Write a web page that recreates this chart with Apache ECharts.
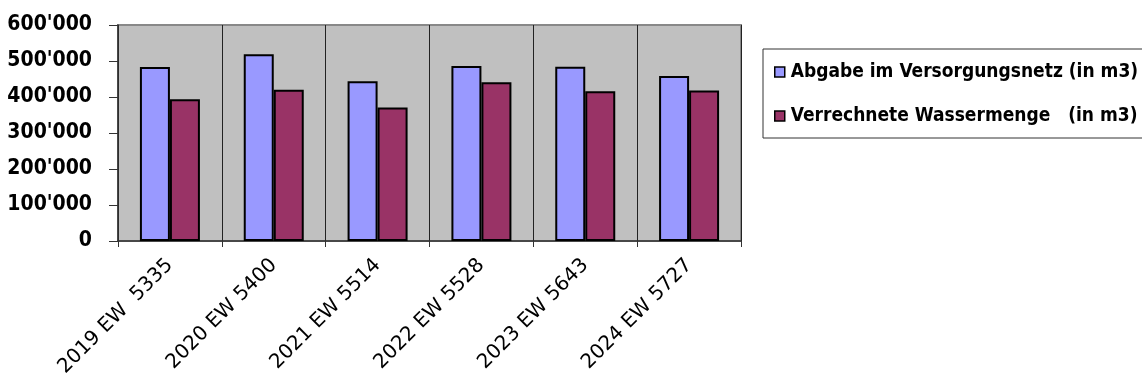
<!DOCTYPE html>
<html>
<head>
<meta charset="utf-8">
<script src="https://cdn.jsdelivr.net/npm/echarts@6/dist/echarts.min.js"></script>
<style>
  html, body { margin: 0; padding: 0; background: #fff; }
  #chart { width: 1142px; height: 385px; }
</style>
</head>
<body>
<div id="chart"></div>
<script>
// Jahr und Einwohnerzahl (EW) je Kategorie
const categories = ['2019 EW  5335', '2020 EW 5400', '2021 EW 5514', '2022 EW 5528', '2023 EW 5643', '2024 EW 5727'];
const seriesNames = ['Abgabe im Versorgungsnetz (in m3)', 'Verrechnete Wassermenge   (in m3)'];
// Wassermengen in m3
const abgabe = [483000, 519000, 444000, 486000, 484000, 458000];
const verrechnet = [394000, 420000, 371000, 441000, 416000, 418000];
const yTicks = [0, 100000, 200000, 300000, 400000, 500000, 600000];

const FONT_COND = '"DejaVu Sans Condensed", "DejaVu Sans", sans-serif';
const FONT = '"DejaVu Sans", sans-serif';

function swissThousands(v) {
  return String(v).replace(/\B(?=(\d{3})+(?!\d))/g, "'");
}

const chart = echarts.init(document.getElementById('chart'), null, { renderer: 'canvas' });

chart.setOption({
  animation: false,
  backgroundColor: '#ffffff',
  grid: {
    left: 118, right: 401, top: 25, bottom: 144,
    show: true,
    backgroundColor: '#C0C0C0',
    borderColor: '#888888',
    borderWidth: 2
  },
  legend: {
    orient: 'vertical',
    left: 763, top: 49,
    padding: [12, 80, 11, 11],
    itemGap: 22,
    itemWidth: 10, itemHeight: 10,
    icon: 'rect',
    borderColor: '#333333', borderWidth: 1,
    backgroundColor: '#ffffff',
    itemStyle: { borderColor: '#000', borderWidth: 1.5 },
    textStyle: { fontFamily: FONT_COND, fontSize: 19, lineHeight: 22, fontWeight: 'bold', color: '#000', padding: [0, 0, 0, 1] },
    data: seriesNames
  },
  xAxis: {
    type: 'category',
    data: categories,
    axisLine: { lineStyle: { color: '#333333', width: 1.5 } },
    axisTick: { show: true, length: 6, lineStyle: { color: '#333333' } },
    splitLine: { show: true, lineStyle: { color: '#222222', width: 1 } },
    axisLabel: {
      rotate: 45,
      margin: 21,
      fontFamily: FONT, fontSize: 20, color: '#000'
    }
  },
  yAxis: {
    type: 'value',
    min: yTicks[0], max: yTicks[yTicks.length - 1], interval: 100000,
    axisLine: { show: true, lineStyle: { color: '#333333', width: 1.5 } },
    axisTick: { show: true, length: 9, lineStyle: { color: '#333333' } },
    splitLine: { show: false },
    axisLabel: {
      margin: 26,
      fontFamily: FONT_COND, fontSize: 21, fontWeight: 'bold', color: '#000',
      formatter: swissThousands
    }
  },
  series: [
    {
      name: seriesNames[0], type: 'bar', data: abgabe,
      barWidth: 30, barGap: '0%',
      itemStyle: { color: '#9999FF', borderColor: '#000', borderWidth: 2 }
    },
    {
      name: seriesNames[1], type: 'bar', data: verrechnet,
      barWidth: 30, barGap: '0%',
      itemStyle: { color: '#993366', borderColor: '#000', borderWidth: 2 }
    }
  ]
});
</script>
</body>
</html>
